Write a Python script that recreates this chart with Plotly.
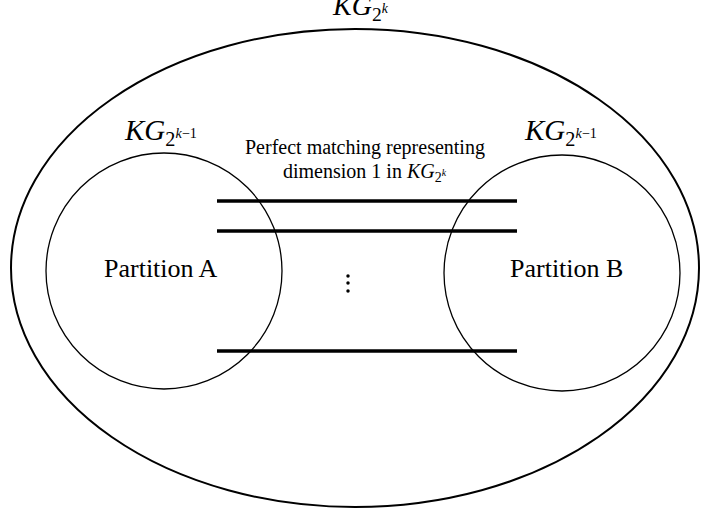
import plotly.graph_objects as go

# ---- diagram content ----
outer_label = "<i>KG</i><sub>2<sup><i>k</i></sup></sub>"
part_labels = ["<i>KG</i><sub>2<sup><i>k</i>−1</sup></sub>", "<i>KG</i><sub>2<sup><i>k</i>−1</sup></sub>"]
part_names = ["Partition A", "Partition B"]
matching_text = ["Perfect matching representing", "dimension 1 in <i>KG</i><sub>2<sup><i>k</i></sup></sub>"]

# geometry (pixel coordinates of the drawing canvas)
outer_ellipse = [11, 29, 699, 507]          # x0, y0, x1, y1
circle_cx = [164, 562]
circle_cy = [271, 273]
circle_r = [118, 118]
edge_y = [201, 231, 351]
edge_x = [217, 517]
dots_x = [348, 348, 348]
dots_y = [276, 283, 291]

W, H = 701, 514
fig = go.Figure()

shapes = []
shapes.append(dict(type="circle", xref="x", yref="y",
                   x0=outer_ellipse[0], y0=outer_ellipse[1],
                   x1=outer_ellipse[2], y1=outer_ellipse[3],
                   line=dict(color="black", width=2)))
for cx, cy, r in zip(circle_cx, circle_cy, circle_r):
    shapes.append(dict(type="circle", xref="x", yref="y",
                       x0=cx - r, y0=cy - r, x1=cx + r, y1=cy + r,
                       line=dict(color="black", width=1.3)))
for y in edge_y:
    shapes.append(dict(type="line", xref="x", yref="y",
                       x0=edge_x[0], x1=edge_x[1], y0=y, y1=y,
                       line=dict(color="black", width=3.5)))

fig.add_trace(go.Scatter(x=dots_x, y=dots_y, mode="markers",
                         marker=dict(color="black", size=3.5),
                         hoverinfo="skip", showlegend=False))

serif = "Liberation Serif"
ann = []
ann.append(dict(x=360, y=7, text=outer_label, showarrow=False,
                font=dict(family=serif, size=28, color="black"),
                xanchor="center", yanchor="middle"))
for cx, lab in zip(circle_cx, part_labels):
    ann.append(dict(x=cx - 4 if cx < 300 else cx - 2, y=132, text=lab, showarrow=False,
                    font=dict(family=serif, size=29, color="black"),
                    xanchor="center", yanchor="middle"))
ann.append(dict(x=161, y=268, text=part_names[0], showarrow=False,
                font=dict(family=serif, size=26, color="black"),
                xanchor="center", yanchor="middle"))
ann.append(dict(x=566, y=268, text=part_names[1], showarrow=False,
                font=dict(family=serif, size=26, color="black"),
                xanchor="center", yanchor="middle"))
ann.append(dict(x=365, y=147, text=matching_text[0], showarrow=False,
                font=dict(family=serif, size=20, color="black"),
                xanchor="center", yanchor="middle"))
ann.append(dict(x=365, y=172, text=matching_text[1], showarrow=False,
                font=dict(family=serif, size=20, color="black"),
                xanchor="center", yanchor="middle"))

fig.update_layout(
    width=W, height=H,
    margin=dict(l=0, r=0, t=0, b=0),
    paper_bgcolor="white", plot_bgcolor="white",
    xaxis=dict(range=[0, W], visible=False, fixedrange=True),
    yaxis=dict(range=[H, 0], visible=False, fixedrange=True),
    shapes=shapes, annotations=ann, showlegend=False,
)
fig.write_html("out.html", config={"displayModeBar": False},
               post_script="document.body.style.margin='0px';")
